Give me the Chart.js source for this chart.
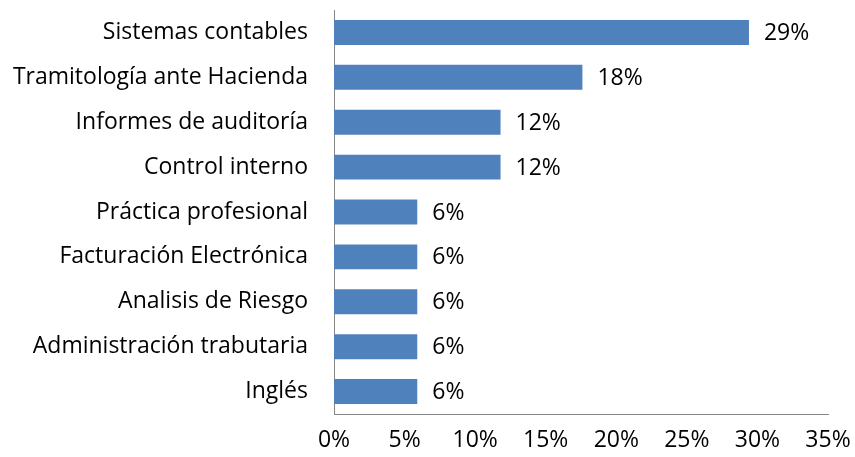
<!DOCTYPE html>
<html>
<head>
<meta charset="utf-8">
<script src="https://cdn.jsdelivr.net/npm/chart.js@4/dist/chart.umd.min.js"></script>
<style>
  html, body { margin: 0; padding: 0; background: #fff; }
  #wrap { width: 855px; height: 457px; }
</style>
</head>
<body>
<div id="wrap"><canvas id="chart" width="855" height="457"></canvas></div>
<script>
// Temas de capacitación (porcentaje de respuestas)
const categories = [
    'Sistemas contables',
    'Tramitología ante Hacienda',
    'Informes de auditoría',
    'Control interno',
    'Práctica profesional',
    'Facturación Electrónica',
    'Analisis de Riesgo',
    'Administración trabutaria',
    'Inglés'
];
const shares = [29.4, 17.6, 11.8, 11.8, 5.9, 5.9, 5.9, 5.9, 5.9];
const axisMax = 35;
const axisStep = 5;

const FONT = '"Open Sans", Lato, sans-serif';
const FONT_SIZE = 23;

// Value labels to the right of each bar
const barLabels = {
    id: 'barLabels',
    afterDatasetsDraw(chart) {
        const ctx = chart.ctx;
        const meta = chart.getDatasetMeta(0);
        ctx.save();
        ctx.font = FONT_SIZE + 'px ' + FONT;
        ctx.fillStyle = '#000';
        ctx.textAlign = 'left';
        ctx.textBaseline = 'middle';
        meta.data.forEach((bar, i) => {
            ctx.fillText(Math.round(shares[i]) + '%', bar.x + 15, bar.y + 1);
        });
        ctx.restore();
    }
};

new Chart(document.getElementById('chart'), {
    type: 'bar',
    data: {
        labels: categories,
        datasets: [{
            data: shares,
            backgroundColor: '#4f81bd',
            borderWidth: 0,
            categoryPercentage: 1,
            barPercentage: 0.556
        }]
    },
    options: {
        indexAxis: 'y',
        responsive: false,
        animation: false,
        layout: { padding: { top: 10, right: 27, left: 0, bottom: 0 } },
        plugins: {
            legend: { display: false },
            tooltip: { enabled: false }
        },
        scales: {
            x: {
                min: 0,
                max: axisMax,
                grid: { display: false, drawTicks: false },
                border: { display: true, color: '#868686', width: 1 },
                ticks: {
                    stepSize: axisStep,
                    color: '#000',
                    padding: 13,
                    font: { family: FONT, size: FONT_SIZE },
                    callback: v => v + '%'
                },
                afterFit(scale) {
                    scale.height = 43;
                    scale.paddingLeft = 0;
                    scale.paddingRight = 0;
                }
            },
            y: {
                grid: { display: false, drawTicks: false },
                border: { display: true, color: '#868686', width: 1 },
                ticks: {
                    color: '#000',
                    padding: 26,
                    font: { family: FONT, size: FONT_SIZE }
                },
                afterFit(scale) {
                    scale.width = 334;
                    scale.paddingTop = 0;
                    scale.paddingBottom = 0;
                }
            }
        }
    },
    plugins: [barLabels]
});
</script>
</body>
</html>
